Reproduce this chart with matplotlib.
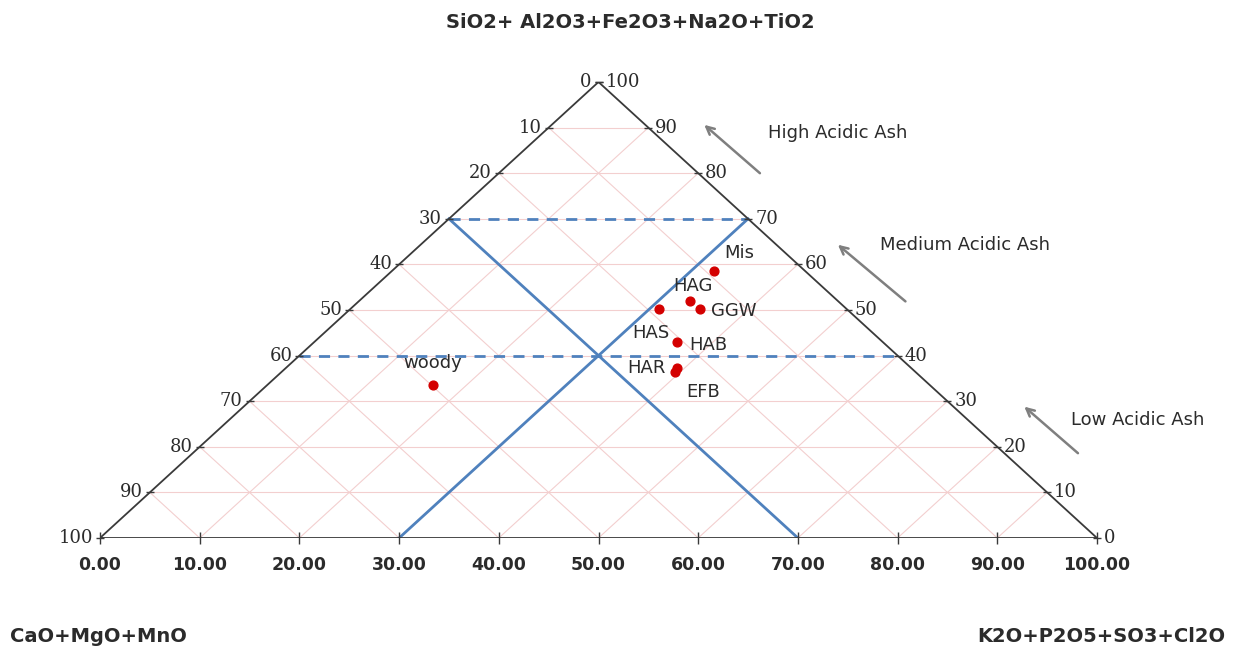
import matplotlib
matplotlib.use("Agg")
import matplotlib.pyplot as plt

# sample compositions (percent of ash)
names = ["Mis", "HAG", "GGW", "HAS", "HAB", "HAR", "EFB", "woody"]
acid = [58.6, 52.0, 50.2, 50.2, 43.0, 37.3, 36.4, 33.6]      # SiO2+Al2O3+Fe2O3+Na2O+TiO2
alkali = [32.3, 33.2, 35.1, 31.0, 36.4, 39.2, 39.5, 16.6]    # K2O+P2O5+SO3+Cl2O
label_offsets = [(25, 18), (3, 15), (34, -2), (-8, -24), (31, -3), (-30, 0), (28, -20), (0, 22)]

ticks = list(range(0, 101, 10))
left_labels = [str(v) for v in ticks]            # 0 at apex -> 100 at bottom left
right_labels = [str(v) for v in ticks[::-1]]     # 100 at apex -> 0 at bottom right
bottom_labels = ["%.2f" % v for v in ticks]

top_title = "SiO2+ Al2O3+Fe2O3+Na2O+TiO2"
left_title = "CaO+MgO+MnO"
right_title = "K2O+P2O5+SO3+Cl2O"
zones = ["High Acidic Ash", "Medium Acidic Ash", "Low Acidic Ash"]


def tern(k, s):
    # alkali k along the base, acid s up to the apex
    return k + s / 2.0, s


edge_c = "#3a3a3a"
grid_c = "#f3cfcf"
blue = "#4f81bd"
txt_c = "#2b2b2b"

fig = plt.figure(figsize=(12.37, 6.49), dpi=100)
ax = fig.add_axes([100 / 1237, (649 - 538) / 649, 997 / 1237, 456 / 649])
ax.set_xlim(0, 100)
ax.set_ylim(0, 100)
ax.axis("off")

# grid
for v in ticks[1:-1]:
    ax.plot([v / 2, 100 - v / 2], [v, v], color=grid_c, lw=0.8, zorder=1)
    x0, y0 = tern(v, 0)
    x1, y1 = tern(v, 100 - v)
    ax.plot([x0, x1], [y0, y1], color=grid_c, lw=0.8, zorder=1)
    x1, y1 = tern(0, v)
    ax.plot([v, x1], [0, y1], color=grid_c, lw=0.8, zorder=1)

# triangle
ax.plot([0, 100, 50, 0], [0, 0, 100, 0], color=edge_c, lw=1.3, zorder=3)

# class boundaries
ax.plot([35, 65], [70, 70], color=blue, lw=2, ls=(0, (4, 3)), zorder=2)
ax.plot([20, 80], [40, 40], color=blue, lw=2, ls=(0, (4, 3)), zorder=2)
xa, ya = tern(30, 70)
ax.plot([30, xa], [0, ya], color=blue, lw=2, zorder=2)
xb, yb = tern(0, 70)
ax.plot([70, xb], [0, yb], color=blue, lw=2, zorder=2)

# edge ticks and labels
for i, v in enumerate(ticks):
    h = 100 - v
    ax.plot([h / 2], [h], marker="_", ms=6, color=edge_c, zorder=4, clip_on=False)
    ax.annotate(left_labels[i], (h / 2, h), xytext=(-7, 0), textcoords="offset pixels",
                ha="right", va="center", fontsize=13, family="DejaVu Serif", color=txt_c)
    h2 = ticks[::-1][i]
    ax.plot([100 - h2 / 2], [h2], marker="_", ms=6, color=edge_c, zorder=4, clip_on=False)
    ax.annotate(right_labels[i], (100 - h2 / 2, h2), xytext=(7, 0), textcoords="offset pixels",
                ha="left", va="center", fontsize=13, family="DejaVu Serif", color=txt_c)
    ax.plot([v], [0], marker="|", ms=8, color=edge_c, zorder=4, clip_on=False)
    ax.annotate(bottom_labels[i], (v, 0), xytext=(0, -27), textcoords="offset pixels",
                ha="center", va="center", fontsize=12.5, fontweight="bold", color=txt_c)

# samples
xs = [k + s / 2 for k, s in zip(alkali, acid)]
ax.scatter(xs, acid, s=40, color="#d40000", zorder=5)
for n, x, y, off in zip(names, xs, acid, label_offsets):
    ax.annotate(n, (x, y), xytext=off, textcoords="offset pixels", ha="center",
                va="center", fontsize=13, color=txt_c)

# zone arrows
arrows = [((66.4, 79.6), (60.4, 91.0)), ((81.0, 51.5), (73.8, 64.7)), ((98.3, 18.2), (92.5, 29.2))]
zone_pos = [(74.0, 88.8), (86.8, 64.3), (104.1, 25.9)]
for (p0, p1), lab, pos in zip(arrows, zones, zone_pos):
    ax.annotate("", xy=p1, xytext=p0, annotation_clip=False,
                arrowprops=dict(arrowstyle="->", color="#7f7f7f", lw=1.8, mutation_scale=14))
    ax.text(pos[0], pos[1], lab, ha="center", va="center", fontsize=13,
            color=txt_c, clip_on=False)

fig.text(630 / 1237, 1 - 22 / 649, top_title, ha="center", va="center",
         fontsize=14, fontweight="bold", color=txt_c)
fig.text(10 / 1237, 1 - 637 / 649, left_title, ha="left", va="center",
         fontsize=14, fontweight="bold", color=txt_c)
fig.text(1225 / 1237, 1 - 637 / 649, right_title, ha="right", va="center",
         fontsize=14, fontweight="bold", color=txt_c)

fig.savefig("out.png", dpi=100)
